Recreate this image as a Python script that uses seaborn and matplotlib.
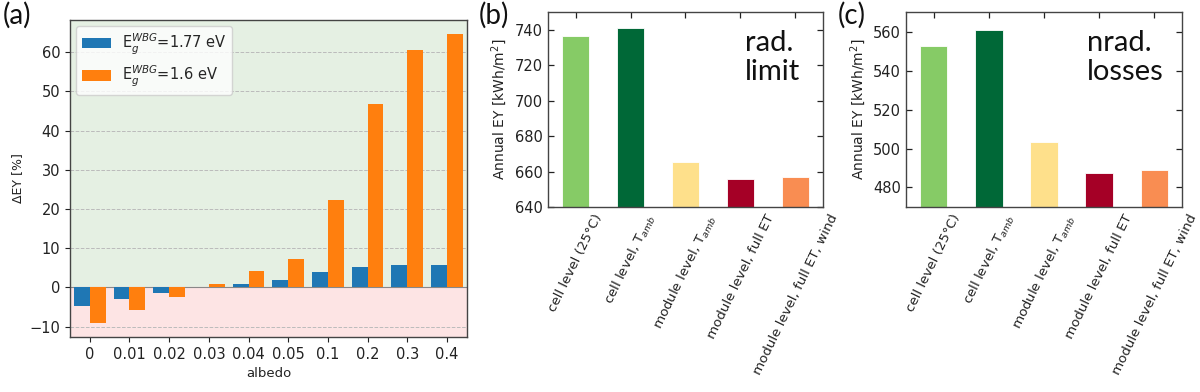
import matplotlib
matplotlib.use("Agg")
import matplotlib.pyplot as plt
import seaborn as sns
import pandas as pd
import numpy as np

# ---------------- data ----------------
albedo = ["0", "0.01", "0.02", "0.03", "0.04", "0.05", "0.1", "0.2", "0.3", "0.4"]
dey_177 = [-4.8, -3.0, -1.4, 0.05, 0.95, 1.85, 4.0, 5.1, 5.6, 5.6]
dey_160 = [-9.2, -5.7, -2.4, 0.85, 4.2, 7.3, 22.4, 46.8, 60.6, 64.6]
series_labels = ["E$_g^{WBG}$=1.77 eV", "E$_g^{WBG}$=1.6 eV"]

scenarios = ["cell level (25°C)", "cell level, T$_{amb}$", "module level, T$_{amb}$",
             "module level, full ET", "module level, full ET, wind"]
ey_rad = [736.8, 741.1, 665.5, 656.0, 656.9]
ey_nrad = [552.8, 560.8, 503.3, 487.6, 489.1]
scenario_colors = ["#86cb66", "#006837", "#fee08b", "#a50026", "#f98d52"]

# ---------------- figure ----------------
sns.set_theme(style="white")
plt.rcParams["font.family"] = ["DejaVu Sans"]
plt.rcParams["mathtext.default"] = "it"

fig = plt.figure(figsize=(12, 3.92), dpi=100)

# ---- panel (a)
axa = fig.add_axes([0.0583, 0.140, 0.3307, 0.809])
df_a = pd.DataFrame({
    "albedo": albedo * 2,
    "dEY": dey_177 + dey_160,
    "series": [series_labels[0]] * len(albedo) + [series_labels[1]] * len(albedo),
})
sns.barplot(data=df_a, x="albedo", y="dEY", hue="series", order=albedo,
            hue_order=series_labels, palette=["#1f77b4", "#ff7f0e"],
            saturation=1, width=0.8, ax=axa, zorder=3, edgecolor="none",
            linewidth=0)
axa.set_ylim(-12.7, 68.2)
axa.set_xlim(-0.5, 9.5)
axa.axhspan(0, 100, color="#e5f0e3", zorder=0)
axa.axhspan(-100, 0, color="#fde4e4", zorder=0)
axa.axhline(0, color="#888888", lw=0.8, zorder=2)
axa.set_yticks([-10, 0, 10, 20, 30, 40, 50, 60])
axa.yaxis.grid(True, linestyle="--", color="#bbbbbb", lw=0.7, zorder=1)
axa.set_axisbelow(True)
axa.tick_params(axis="both", direction="out", length=3.5, width=0.8,
                labelsize=10.5, colors="#222222", left=True, bottom=True)
axa.set_xlabel("albedo", fontsize=9.5, color="#222222")
axa.set_ylabel("ΔEY [%]", fontsize=9, color="#222222")
for s in axa.spines.values():
    s.set_color("#444444")
    s.set_linewidth(1.0)
leg = axa.legend(loc="upper left", fontsize=10.5, frameon=True, framealpha=0.8,
                 edgecolor="#cccccc", fancybox=True, handlelength=2.0,
                 borderaxespad=0.4)
leg.set_title(None)

# ---- panels (b) and (c)
def ey_panel(rect, values, ylim, yticks, note, note_x):
    ax = fig.add_axes(rect)
    df = pd.DataFrame({"scenario": scenarios, "EY": values})
    sns.barplot(data=df, x="scenario", y="EY", hue="scenario", order=scenarios,
                hue_order=scenarios, palette=scenario_colors, legend=False,
                saturation=1, width=0.5, ax=ax, edgecolor="#ffffff",
                linewidth=0.6)
    ax.set_xlim(-0.5, 4.5)
    ax.set_ylim(*ylim)
    ax.set_yticks(yticks)
    ax.tick_params(axis="both", direction="in", length=4, width=0.9,
                   top=True, right=True, left=True, bottom=True,
                   labelsize=10.5, colors="#222222")
    ax.set_xticks(range(len(scenarios)))
    ax.set_xticklabels(scenarios, rotation=64, ha="center", fontsize=9.6)
    ax.set_xlabel("")
    ax.set_ylabel("Annual EY [kWh/m$^2$]", fontsize=10, color="#222222")
    for s in ax.spines.values():
        s.set_color("#444444")
        s.set_linewidth(1.0)
    ax.text(note_x, 0.91, note, transform=ax.transAxes, ha="left", va="top",
            fontsize=21, family="Lato", linespacing=1.15, color="#111111")
    return ax

axb = ey_panel([0.4567, 0.472, 0.2291, 0.497], ey_rad, (640, 750),
               [640, 660, 680, 700, 720, 740], "rad.\nlimit", 0.715)
axc = ey_panel([0.755, 0.472, 0.230, 0.497], ey_nrad, (470, 570),
               [480, 500, 520, 540, 560], "nrad.\nlosses", 0.655)

# panel letters
for x, lab in [(0.002, "(a)"), (0.399, "(b)"), (0.698, "(c)")]:
    fig.text(x, 0.995, lab, ha="left", va="top", fontsize=20, family="Lato",
             color="#111111")

fig.savefig("out.png", dpi=100)
